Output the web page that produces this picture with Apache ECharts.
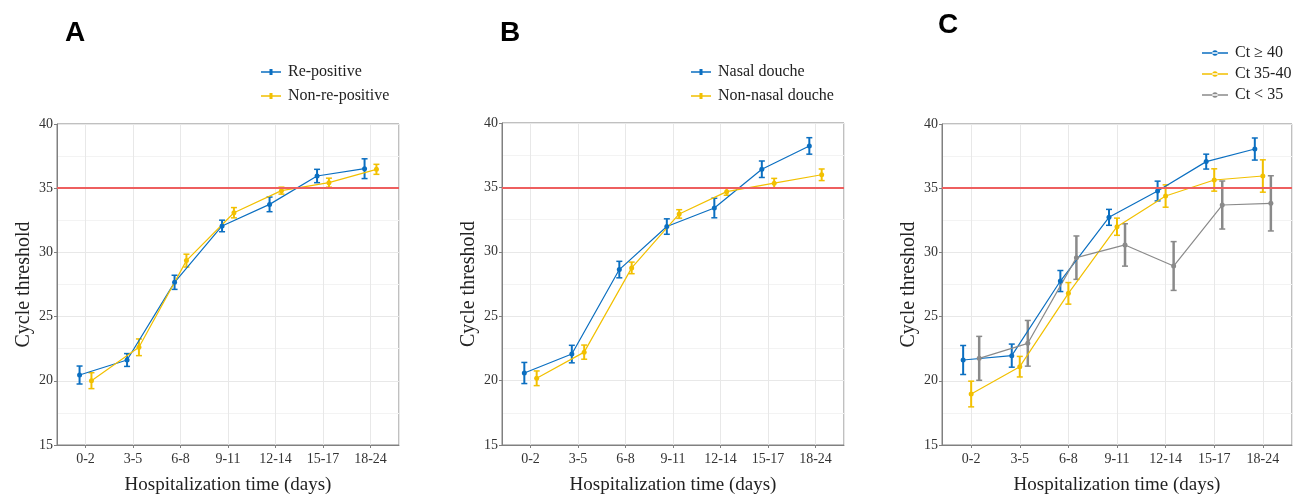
<!DOCTYPE html>
<html>
<head>
<meta charset="utf-8">
<script src="https://cdn.jsdelivr.net/npm/echarts@6/dist/echarts.min.js"></script>
<style>
  html, body { margin: 0; padding: 0; background: #fff; }
  #chart { width: 1297px; height: 496px; }
</style>
</head>
<body>
<div id="chart"></div>
<script>
// 数据
const categories = ['0-2', '3-5', '6-8', '9-11', '12-14', '15-17', '18-24'];

// A
const rePosMean = [20.45, 21.62, 27.67, 32.06, 33.74, 35.95, 36.52];
const rePosErr = [0.70, 0.50, 0.55, 0.45, 0.57, 0.52, 0.77];
const nonRePosMean = [20.01, 22.61, 29.36, 33.09, 34.81, 35.43, 36.47];
const nonRePosErr = [0.62, 0.65, 0.50, 0.40, 0.27, 0.35, 0.39];

// B
const nasalMean = [20.59, 22.06, 28.62, 31.96, 33.40, 36.41, 38.22];
const nasalErr = [0.82, 0.68, 0.64, 0.60, 0.76, 0.64, 0.64];
const nonNasalMean = [20.18, 22.21, 28.75, 32.94, 34.67, 35.33, 35.98];
const nonNasalErr = [0.57, 0.55, 0.45, 0.33, 0.28, 0.37, 0.45];

// C
const ct40Mean = [21.62, 21.96, 27.77, 32.73, 34.78, 37.07, 38.05];
const ct40Err = [1.13, 0.90, 0.82, 0.62, 0.77, 0.58, 0.86];
const ct3540Mean = [18.97, 21.10, 26.81, 32.00, 34.39, 35.64, 35.95];
const ct3540Err = [1.00, 0.80, 0.84, 0.67, 0.87, 0.87, 1.26];
const ct35Mean = [21.75, 22.92, 29.59, 30.58, 28.94, 33.69, 33.82];
const ct35Err = [1.71, 1.78, 1.69, 1.65, 1.90, 1.87, 2.15];

const threshold = 35;
const yTicks = [15, 40, 5];

const BLUE = '#0b6fc1';
const YELLOW = '#f2c000';
const GRAY = '#8a8a8a';
const RED = '#ee5f5f';
const SERIF = '"Liberation Serif", "DejaVu Serif", serif';

const chart = echarts.init(document.getElementById('chart'));

const grids = [
    { left: 57, top: 124, width: 342, height: 321 },
    { left: 502, top: 123, width: 342, height: 322 },
    { left: 942, top: 124, width: 350, height: 321 }
];

function xAxisFor(i) {
    return {
        type: 'value', gridIndex: i, min: -0.6, max: 6.6, splitNumber: 7,
        name: 'Hospitalization time (days)', nameLocation: 'middle', nameGap: 31,
        nameTextStyle: { fontFamily: SERIF, fontSize: 19, color: '#222' },
        axisLine: { show: true, onZero: false, lineStyle: { color: '#808080' } },
        axisTick: { show: true, length: 3, lineStyle: { color: '#808080' } },
        axisLabel: {
            fontFamily: SERIF, fontSize: 14, color: '#333', margin: 7,
            showMinLabel: false, showMaxLabel: false,
            formatter: v => {
                let r = Math.round(v);
                return Math.abs(v - r) < 1e-6 && categories[r] ? categories[r] : '';
            }
        },
        splitLine: { show: true, lineStyle: { color: '#e8e8e8' } }
    };
}

function yAxisFor(i) {
    return {
        type: 'value', gridIndex: i, min: yTicks[0], max: yTicks[1], interval: yTicks[2],
        name: 'Cycle threshold', nameLocation: 'middle', nameGap: 23,
        nameTextStyle: { fontFamily: SERIF, fontSize: 20, color: '#222' },
        axisLine: { show: true, onZero: false, lineStyle: { color: '#808080' } },
        axisTick: { show: true, length: 3, lineStyle: { color: '#808080' } },
        axisLabel: { fontFamily: SERIF, fontSize: 14, color: '#333', margin: 4 },
        splitLine: { show: true, lineStyle: { color: '#e8e8e8' } },
        minorTick: { show: false, splitNumber: 2 },
        minorSplitLine: { show: true, lineStyle: { color: '#f3f3f3' } }
    };
}

// 折线 + 误差棒
function lineSeries(name, means, offset, color, gi) {
    return {
        name: name, type: 'line', xAxisIndex: gi, yAxisIndex: gi,
        data: means.map((m, i) => [i + offset, m]),
        symbol: 'circle', symbolSize: 5,
        itemStyle: { color: color },
        lineStyle: { color: color, width: 1.2 },
        z: 4
    };
}

function errSeries(means, errs, offset, color, gi, bw) {
    return {
        type: 'custom', xAxisIndex: gi, yAxisIndex: gi,
        data: means.map((m, i) => [i + offset, m - errs[i], m + errs[i]]),
        renderItem: (params, api) => {
            let x = api.value(0);
            let top = api.coord([x, api.value(2)]);
            let bot = api.coord([x, api.value(1)]);
            let cap = 3;
            let st = { stroke: color, lineWidth: bw };
            return {
                type: 'group',
                children: [
                    { type: 'line', shape: { x1: top[0], y1: top[1], x2: bot[0], y2: bot[1] }, style: st },
                    { type: 'line', shape: { x1: top[0] - cap, y1: top[1], x2: top[0] + cap, y2: top[1] }, style: { stroke: color, lineWidth: 1.5 } },
                    { type: 'line', shape: { x1: bot[0] - cap, y1: bot[1], x2: bot[0] + cap, y2: bot[1] }, style: { stroke: color, lineWidth: 1.5 } }
                ]
            };
        },
        z: 3
    };
}

function redLine(gi) {
    return {
        type: 'line', xAxisIndex: gi, yAxisIndex: gi, data: [],
        markLine: {
            silent: true, symbol: 'none', label: { show: false },
            lineStyle: { color: RED, width: 2, type: 'solid' },
            data: [{ yAxis: threshold }]
        },
        z: 2
    };
}

const crossIcon = 'path://M0,4.3L20,4.3L20,5.7L0,5.7Z M8.5,2L11.5,2L11.5,8L8.5,8Z';
const dotIcon = 'path://M0,4.4L24,4.4L24,5.6L0,5.6Z M9.5,5A2.5,2.5,0,1,0,14.5,5A2.5,2.5,0,1,0,9.5,5Z';

function legendFor(names, left, top, gap, icon, w, lw) {
    return {
        orient: 'vertical', left: left, top: top, itemGap: gap,
        itemWidth: w, itemHeight: 10,
        lineStyle: { width: lw },
        data: names.map(n => ({ name: n, icon: icon })),
        textStyle: { fontFamily: SERIF, fontSize: 16, color: '#222', padding: [0, 0, 0, 2] }
    };
}

const letterStyle = { fontFamily: '"Liberation Sans", Arial, sans-serif', fontSize: 28, fontWeight: 'bold', color: '#000' };

chart.setOption({
    animation: false,
    title: [
        { text: 'A', left: 60, top: 14, textStyle: letterStyle },
        { text: 'B', left: 495, top: 14, textStyle: letterStyle },
        { text: 'C', left: 933, top: 6, textStyle: letterStyle }
    ],
    legend: [
        legendFor(['Re-positive', 'Non-re-positive'], 256, 59, 8, crossIcon, 20, 2.5),
        legendFor(['Nasal douche', 'Non-nasal douche'], 686, 59, 8, crossIcon, 20, 2.5),
        legendFor(['Ct ≥ 40', 'Ct 35-40', 'Ct < 35'], 1197, 40, 5, dotIcon, 26, 2)
    ],
    grid: grids.map(g => Object.assign({ show: true, borderColor: '#808080', borderWidth: 1, containLabel: false, outerBoundsMode: 'none' }, g)),
    xAxis: [xAxisFor(0), xAxisFor(1), xAxisFor(2)],
    yAxis: [yAxisFor(0), yAxisFor(1), yAxisFor(2)],
    series: [
        redLine(0), redLine(1), redLine(2),
        errSeries(rePosMean, rePosErr, -0.125, BLUE, 0, 2),
        errSeries(nonRePosMean, nonRePosErr, 0.125, YELLOW, 0, 2),
        lineSeries('Re-positive', rePosMean, -0.125, BLUE, 0),
        lineSeries('Non-re-positive', nonRePosMean, 0.125, YELLOW, 0),

        errSeries(nasalMean, nasalErr, -0.13, BLUE, 1, 2),
        errSeries(nonNasalMean, nonNasalErr, 0.13, YELLOW, 1, 2),
        lineSeries('Nasal douche', nasalMean, -0.13, BLUE, 1),
        lineSeries('Non-nasal douche', nonNasalMean, 0.13, YELLOW, 1),

        errSeries(ct40Mean, ct40Err, -0.165, BLUE, 2, 2),
        errSeries(ct3540Mean, ct3540Err, 0, YELLOW, 2, 2),
        errSeries(ct35Mean, ct35Err, 0.165, GRAY, 2, 2.5),
        lineSeries('Ct ≥ 40', ct40Mean, -0.165, BLUE, 2),
        lineSeries('Ct 35-40', ct3540Mean, 0, YELLOW, 2),
        lineSeries('Ct < 35', ct35Mean, 0.165, GRAY, 2)
    ]
});
</script>
</body>
</html>
